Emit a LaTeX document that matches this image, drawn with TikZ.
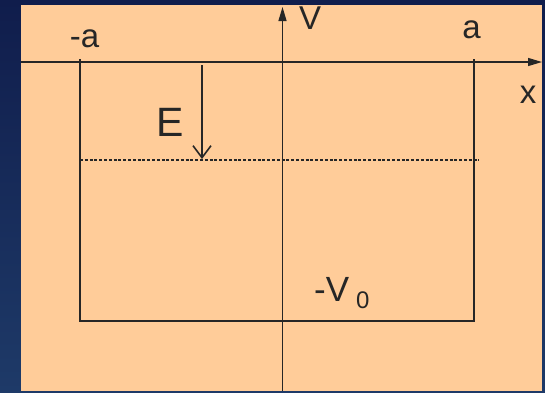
\documentclass[tikz,border=0pt]{standalone}
\usepackage{fontspec}
\setmainfont{Liberation Sans}
\usetikzlibrary{arrows.meta}
\definecolor{peach}{HTML}{FFCC99}
\definecolor{ink}{HTML}{262626}
\definecolor{bgtop}{HTML}{101D4C}
\definecolor{bgbot}{HTML}{1E3A68}
\begin{document}
\begin{tikzpicture}[x=1pt,y=-1pt,
  axis/.style={draw=ink,line width=1.3pt,-{Triangle[length=14pt,width=8pt]}},
  wall/.style={draw=ink,line width=2pt},
  level/.style={draw=ink,line width=2pt,dash pattern=on 3pt off 1.8pt},
  earrow/.style={draw=ink,line width=1.4pt,-{Straight Barb[length=12pt,width=18pt,line width=1.6pt]}},
  lbl/.style={text=ink,inner sep=0pt,anchor=base,font=\fontsize{33}{36}\selectfont},
  sub/.style={text=ink,inner sep=0pt,anchor=base,font=\fontsize{24}{26}\selectfont}]
\useasboundingbox (0,0) rectangle (545,392);
\shade[top color=bgtop,bottom color=bgbot] (0,0) rectangle (545,392);
\fill[peach] (21,5) rectangle (542,391);
% coordinates
\coordinate (xl) at (21,62);
\coordinate (xr) at (542,62);
\coordinate (vb) at (282.5,391);
\coordinate (vt) at (282.5,7);
\coordinate (lt) at (80,59);
\coordinate (lb) at (80,321);
\coordinate (rb) at (474,321);
\coordinate (rt) at (474,59);
\coordinate (dl) at (80,159.5);
\coordinate (dr) at (479,159.5);
\coordinate (es) at (202,65);
\coordinate (ee) at (202,159);
% well
\draw[wall] (lt) -- (lb) -- (rb) -- (rt);
\draw[level] (dl) -- (dr);
% axes
\draw[axis] (xl) -- (xr);
\draw[axis] (vb) -- (vt);
\draw[earrow] (es) -- (ee);
% labels
\node[lbl] (lma) at (84.5,47) {-a};
\node[lbl] (lpa) at (471.5,38) {a};
\node[lbl] (lv) at (310,29) {V};
\node[lbl] (lx) at (528,103) {x};
\node[lbl,font=\fontsize{41}{44}\selectfont] (le) at (170,136) {E};
\node[lbl,font=\fontsize{35}{38}\selectfont] (lv0) at (331.7,301) {-V};
\node[sub] (l0) at (362.8,308) {0};
\end{tikzpicture}
\end{document}
